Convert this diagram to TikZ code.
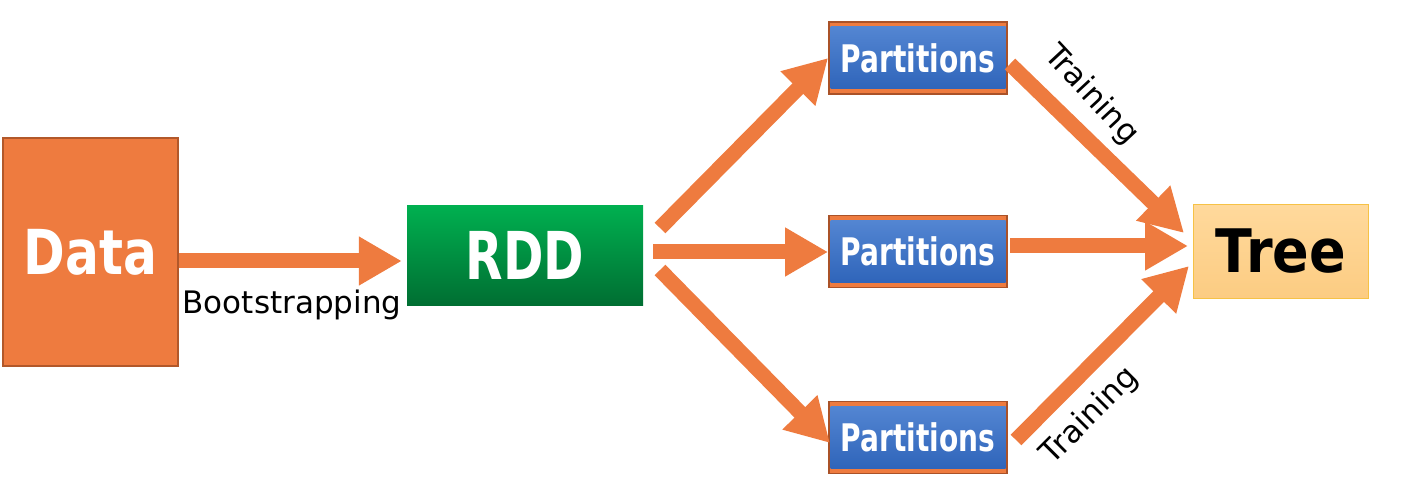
\documentclass[tikz,border=0pt]{standalone}
\usepackage{fontspec}
\setmainfont{DejaVu Sans}
\newfontfamily\dataf[FakeStretch=0.9]{DejaVu Sans Condensed}
\newfontfamily\narf[FakeStretch=0.82]{DejaVu Sans Condensed}
\newfontfamily\treef{DejaVu Sans Condensed}
\usetikzlibrary{arrows.meta}
\definecolor{orng}{RGB}{238,123,63}
\definecolor{orngd}{RGB}{178,88,42}
\definecolor{brn}{RGB}{170,82,40}
\definecolor{grnt}{RGB}{0,176,80}
\definecolor{grnb}{RGB}{0,110,50}
\definecolor{bluet}{RGB}{86,136,212}
\definecolor{blueb}{RGB}{44,98,184}
\definecolor{treet}{RGB}{255,217,156}
\definecolor{treeb}{RGB}{252,204,130}
\definecolor{treed}{RGB}{246,194,70}
\tikzset{
  box/.style={rectangle, inner sep=0pt},
  databox/.style={box, minimum width=175pt, minimum height=228pt, fill=orng, draw=orngd, line width=2.5pt, text=white, font=\dataf\fontsize{62}{70}\selectfont\bfseries},
  rddbox/.style={box, minimum width=236pt, minimum height=100pt, top color=grnt, bottom color=grnb, text=white, font=\narf\fontsize{66}{72}\selectfont\bfseries},
  partbox/.style={box, minimum width=178pt, minimum height=72pt, fill=orng, draw=brn, line width=1.8pt, text=white, font=\narf\fontsize{38}{44}\selectfont\bfseries,
    path picture={\shade[top color=bluet, bottom color=blueb] ([xshift=1.5pt,yshift=-5pt]path picture bounding box.north west) rectangle ([xshift=-1.5pt,yshift=5pt]path picture bounding box.south east);}},
  treebox/.style={box, minimum width=175pt, minimum height=94pt, top color=treet, bottom color=treeb, draw=treed, line width=1.2pt, text=black, font=\treef\fontsize{60}{66}\selectfont\bfseries},
  arr/.style={draw=orng, line width=15pt, -{Triangle[length=43pt,width=46pt]}},
  lbl/.style={font=\fontsize{31}{36}\selectfont, text=black, inner sep=0pt}
}
\begin{document}
\begin{tikzpicture}[x=1pt,y=-1pt]
\useasboundingbox (0,0) rectangle (1401,489);
\node[databox] (Data) at (90.5,252) {Data};
\node[rddbox] (RDD) at (525,255.5) {RDD};
\node[partbox] (P1) at (918,58) {Partitions};
\node[partbox] (P2) at (918,251.5) {Partitions};
\node[partbox] (P3) at (918,437.5) {Partitions};
\node[treebox] (Tree) at (1281,251.5) {Tree};
\coordinate (r1) at (660,228);
\coordinate (r2) at (653,252);
\coordinate (r3) at (660,270);
\coordinate (e3) at (830,443);
\coordinate (s1) at (1010,64);
\coordinate (s2) at (1010,246);
\coordinate (s3) at (1016,440);
\coordinate (t1) at (1184,233);
\coordinate (t2) at (1188,246);
\coordinate (t3) at (1189,266);
\draw[arr, shorten >=5pt] (Data.east |- 0,261) -- (RDD.west |- 0,261);
\draw[arr] (r1) -- (P1.west);
\draw[arr] (r2) -- (P2.west |- r2);
\draw[arr] (r3) -- (e3);
\draw[arr] (s1) -- (t1);
\draw[arr] (s2) -- (t2);
\draw[arr] (s3) -- (t3);
\node[lbl, anchor=base] (bs) at (292,313) {Bootstrapping};
\node[lbl, rotate=-47] (tr1) at (1091,95) {Training};
\node[lbl, rotate=45] (tr2) at (1090,416) {Training};
\end{tikzpicture}
\end{document}
